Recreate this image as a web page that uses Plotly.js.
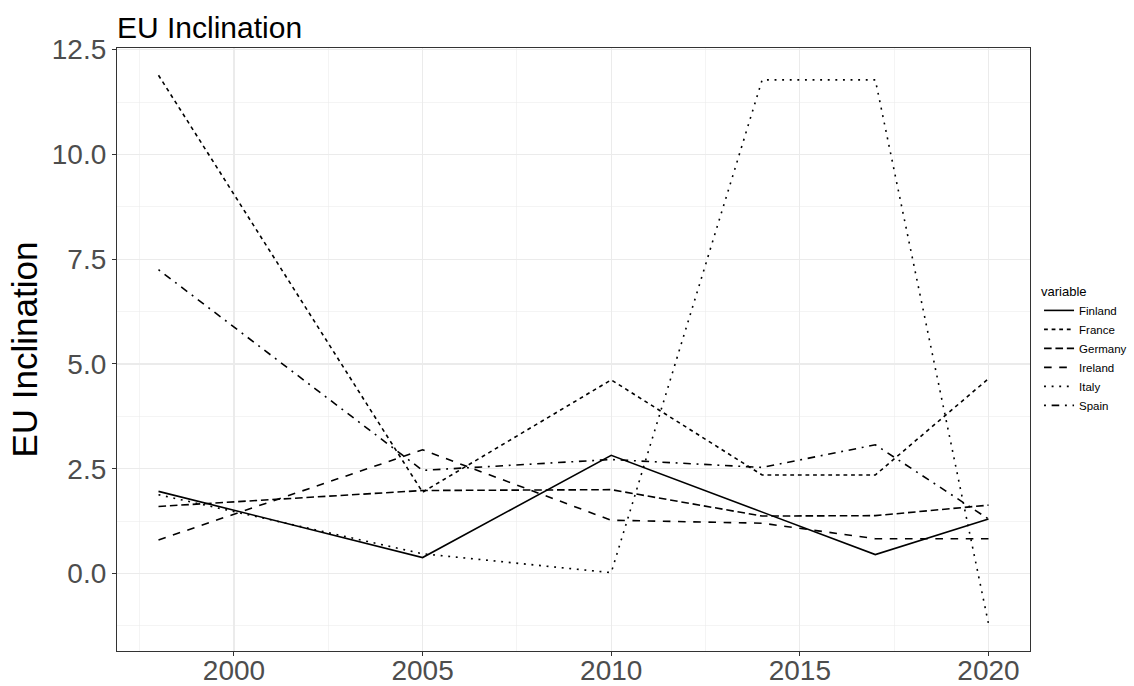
<!DOCTYPE html>
<html>
<head>
<meta charset="utf-8">
<script src="https://cdn.plot.ly/plotly-3.0.1.min.js"></script>
<style>html,body{margin:0;padding:0;background:#fff;}#chart{width:1134px;height:686px;}</style>
</head>
<body>
<div id="chart"></div>
<script>
const years = [1998, 2005, 2010, 2014, 2017, 2020];
const countries = ["Finland", "France", "Germany", "Ireland", "Italy", "Spain"];
const finland = [1.96, 0.38, 2.82, 1.47, 0.45, 1.30];
const france  = [11.89, 1.94, 4.62, 2.35, 2.35, 4.65];
const germany = [1.60, 1.98, 2.00, 1.37, 1.38, 1.63];
const ireland = [0.80, 2.95, 1.27, 1.20, 0.83, 0.83];
const italy   = [1.88, 0.47, 0.02, 11.78, 11.78, -1.20];
const spain   = [7.25, 2.46, 2.72, 2.53, 3.07, 1.30];
const seriesValues = [finland, france, germany, ireland, italy, spain];
const dashes = ["solid", "3.8px,3.8px", "7.6px,3.8px", "7.6px,7.6px", "1.9px,5.7px", "1.9px,5.7px,7.6px,5.7px"];

const traces = countries.map((name, i) => ({
  type: "scatter", mode: "lines", name: name,
  x: years, y: seriesValues[i],
  line: {color: "#000000", width: 1.6, dash: dashes[i]}
}));

const gridCol = "#ebebeb";
const font = "Liberation Sans, Arial, sans-serif";
const layout = {
  width: 1134, height: 686,
  paper_bgcolor: "#ffffff", plot_bgcolor: "#ffffff",
  margin: {l: 117, r: 104, t: 48, b: 35, autoexpand: false},
  font: {family: font, color: "#000000"},
  title: {text: "EU Inclination", x: 117/1134, xref: "container", xanchor: "left",
          y: 1 - 27/686, yref: "container", yanchor: "middle",
          font: {size: 30, family: font, color: "#000000"}},
  xaxis: {range: [1996.9, 2021.1], tick0: 2000, dtick: 5, ticks: "outside", ticklen: 4,
          tickcolor: "#333333", tickwidth: 1, ticklabelstandoff: -10,
          tickfont: {size: 28, color: "#4d4d4d", family: font},
          showgrid: true, gridcolor: gridCol, gridwidth: 1.1,
          minor: {dtick: 2.5, tick0: 2000, showgrid: true, gridcolor: gridCol, gridwidth: 0.55, ticks: ""},
          showline: true, linecolor: "#333333", linewidth: 1.1, mirror: true, zeroline: false},
  yaxis: {range: [-1.85, 12.54], tick0: 0, dtick: 2.5, tickformat: ".1f", ticks: "outside", ticklen: 4,
          tickcolor: "#333333", tickwidth: 1,
          tickfont: {size: 28, color: "#4d4d4d", family: font},
          showgrid: true, gridcolor: gridCol, gridwidth: 1.1,
          minor: {dtick: 1.25, tick0: 0, showgrid: true, gridcolor: gridCol, gridwidth: 0.55, ticks: ""},
          showline: true, linecolor: "#333333", linewidth: 1.1, mirror: true, zeroline: false,
          title: {text: "EU Inclination", font: {size: 35, family: font, color: "#000000"}, standoff: 3}},
  legend: {x: 1.0099, xanchor: "left", y: 0.5, yanchor: "middle",
           title: {text: "variable", font: {size: 13, family: font, color: "#000000"}},
           font: {size: 11.5, family: font, color: "#000000"}, bgcolor: "rgba(0,0,0,0)"},
  showlegend: true
};
Plotly.newPlot("chart", traces, layout, {displayModeBar: false, staticPlot: true});
</script>
</body>
</html>
